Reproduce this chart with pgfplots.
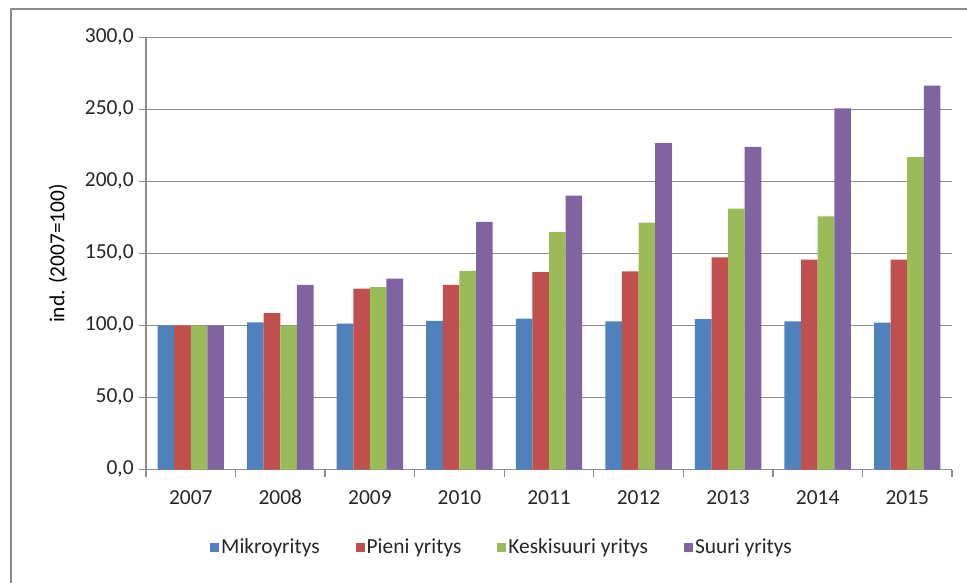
\documentclass[border=0pt]{standalone}
\usepackage{pgfplots}
\pgfplotsset{compat=1.18}
\usepackage{fontspec}
\setmainfont{Carlito}
\definecolor{cBlue}{HTML}{4F81BD}
\definecolor{cRed}{HTML}{C0504D}
\definecolor{cGreen}{HTML}{9BBB59}
\definecolor{cPurple}{HTML}{8064A2}
\definecolor{cGrid}{HTML}{8C8C8C}
\definecolor{cText}{HTML}{262626}
\begin{document}
\fontsize{21.5}{25}\selectfont
\begin{tikzpicture}
\useasboundingbox (0,0) rectangle (967bp,583bp);
\draw[color=cGrid, line width=1.3bp] (11bp,-5bp) -- (11bp,574bp) -- (975bp,574bp);
\begin{axis}[
  at={(146bp,113.3bp)}, anchor=south west,
  scale only axis, width=806bp, height=432.4bp,
  ymin=0, ymax=300, ytick={0,50,...,300},
  xmin=-0.5, xmax=8.5,
  xtick={-0.5,0.5,...,8.5}, xticklabels={},
  extra x ticks={0,1,2,3,4,5,6,7,8},
  extra x tick labels={2007,2008,2009,2010,2011,2012,2013,2014,2015},
  extra x tick style={major tick length=0pt, grid=none},
  typeset ticklabels with strut,
  xticklabel style={yshift=-10bp},
  ybar=0pt, bar width=16.6bp,
  axis x line*=bottom, axis y line*=left,
  axis line style={draw=cGrid, line width=1.3bp},
  tick align=outside, major tick length=7bp,
  tick style={draw=cGrid, line width=1.3bp},
  ymajorgrids, grid style={draw=cGrid, line width=1.3bp},
  /pgf/number format/assume math mode=true,
  yticklabel style={xshift=2bp, /pgf/number format/.cd, fixed, fixed zerofill, precision=1, use comma, 1000 sep={}},
  ticklabel style={font=\fontsize{21.5}{25}\selectfont, text=cText},
  ylabel={ind. (2007=100)},
  ylabel style={font=\fontsize{21.5}{25}\selectfont, text=cText},
  every axis y label/.style={at={(axis description cs:0,0.5)}, xshift=-88bp, rotate=90, anchor=center},
  legend columns=4,
  legend style={at={(axis description cs:0.4417,-0.18)}, anchor=center, draw=none,
    font=\fontsize{21.5}{25}\selectfont, text=cText,
    nodes={inner xsep=2bp},
    /tikz/every even column/.append style={column sep=34bp}},
  legend image code/.code={\fill[#1] (0bp,-4.5bp) rectangle (9bp,4.5bp);},
]
\addplot[fill=cBlue, draw=none] coordinates {(0,100) (1,102.3) (2,101.4) (3,103.2) (4,104.9) (5,102.9) (6,104.5) (7,102.9) (8,102.0)};
\addplot[fill=cRed, draw=none] coordinates {(0,100) (1,108.6) (2,125.7) (3,128.2) (4,137.0) (5,137.6) (6,147.3) (7,145.7) (8,145.7)};
\addplot[fill=cGreen, draw=none] coordinates {(0,100) (1,100) (2,126.6) (3,137.9) (4,164.8) (5,171.4) (6,181.1) (7,175.8) (8,216.9)};
\addplot[fill=cPurple, draw=none] coordinates {(0,100) (1,128.2) (2,132.6) (3,171.9) (4,190.1) (5,226.6) (6,223.9) (7,250.7) (8,266.4)};
\legend{Mikroyritys, Pieni yritys, Keskisuuri yritys, Suuri yritys}
\end{axis}
\end{tikzpicture}
\end{document}
